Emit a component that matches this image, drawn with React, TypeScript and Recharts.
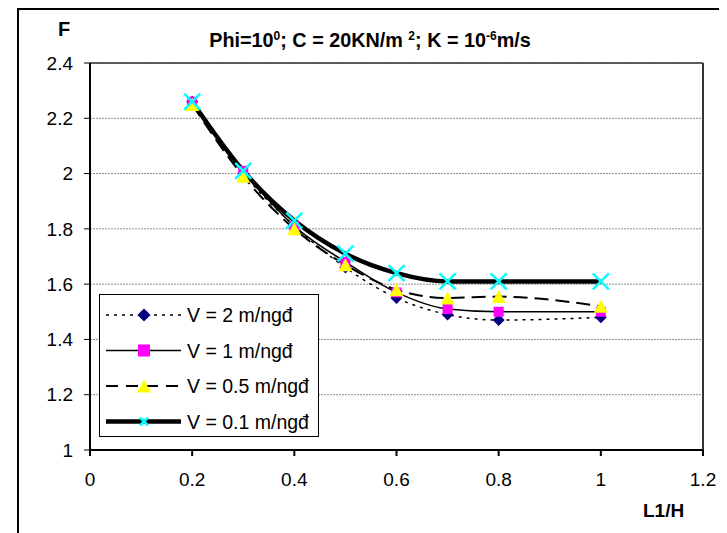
import React from "react";
import {
  CartesianGrid,
  Legend,
  Line,
  LineChart,
  ReferenceLine,
  XAxis,
  YAxis,
} from "recharts";

// L1/H values (no point at 0.9)
const ratios = [0.2, 0.3, 0.4, 0.5, 0.6, 0.7, 0.8, 1.0];

// F for each filtration speed
const fV2 = [2.26, 2.0, 1.81, 1.66, 1.55, 1.49, 1.47, 1.48];
const fV1 = [2.26, 2.01, 1.81, 1.68, 1.57, 1.51, 1.5, 1.5];
const fV05 = [2.25, 1.99, 1.8, 1.67, 1.58, 1.55, 1.555, 1.52];
const fV01 = [2.26, 2.01, 1.83, 1.71, 1.64, 1.61, 1.61, 1.61];

const seriesNames = ["V = 2 m/ngđ", "V = 1 m/ngđ", "V = 0.5 m/ngđ", "V = 0.1 m/ngđ"];

const xTicks = [0, 0.2, 0.4, 0.6, 0.8, 1, 1.2];
const yTicks = [1, 1.2, 1.4, 1.6, 1.8, 2, 2.2, 2.4];

const data = ratios.map((r, i) => ({
  x: r,
  v2: fV2[i],
  v1: fV1[i],
  v05: fV05[i],
  v01: fV01[i],
}));

type MarkerKind = "diamond" | "square" | "triangle" | "cross";

function Marker({ kind, cx, cy, s = 1 }: { kind: MarkerKind; cx: number; cy: number; s?: number }) {
  if (kind === "diamond") {
    const r = 6 * s;
    return (
      <polygon
        points={`${cx},${cy - r} ${cx + r},${cy} ${cx},${cy + r} ${cx - r},${cy}`}
        fill="#000080"
      />
    );
  }
  if (kind === "square") {
    const h = 5 * s;
    return <rect x={cx - h} y={cy - h} width={h * 2} height={h * 2} fill="#ff00ff" />;
  }
  if (kind === "triangle") {
    const w = 7 * s;
    const h = 6.5 * s;
    return (
      <polygon
        points={`${cx},${cy - h} ${cx + w},${cy + h} ${cx - w},${cy + h}`}
        fill="#ffff00"
      />
    );
  }
  const r = 8 * s;
  return (
    <g stroke="#00ffff" strokeWidth={2.5}>
      <line x1={cx - r} y1={cy - r} x2={cx + r} y2={cy + r} />
      <line x1={cx - r} y1={cy + r} x2={cx + r} y2={cy - r} />
    </g>
  );
}

const styles = [
  { key: "v2", marker: "diamond" as MarkerKind, width: 1.5, dash: "3 5", legendDash: "3 5" },
  { key: "v1", marker: "square" as MarkerKind, width: 1.5, dash: undefined, legendDash: undefined },
  { key: "v05", marker: "triangle" as MarkerKind, width: 2, dash: "14 7", legendDash: "12 8" },
  { key: "v01", marker: "cross" as MarkerKind, width: 4.5, dash: undefined, legendDash: undefined },
];

const legendScale = [1.1, 1.2, 1.0, 0.5];

function LegendBox() {
  return (
    <div
      style={{
        width: 220,
        height: 143,
        border: "1.5px solid #000",
        background: "#fff",
        boxSizing: "border-box",
      }}
    >
      <svg width={217} height={140} style={{ display: "block" }}>
        {styles.map((st, i) => {
          const y = 20 + i * 35.5;
          return (
            <g key={st.key}>
              <line
                x1={6}
                x2={81}
                y1={y}
                y2={y}
                stroke="#000"
                strokeWidth={st.width}
                strokeDasharray={st.legendDash}
              />
              <Marker kind={st.marker} cx={44} cy={y} s={legendScale[i]} />
              <text x={87} y={y + 7} fontSize={19.5} fill="#000">
                {seriesNames[i]}
              </text>
            </g>
          );
        })}
      </svg>
    </div>
  );
}

export default function App() {
  return (
    <div
      style={{
        position: "relative",
        width: 719,
        height: 525,
        fontFamily: '"Liberation Sans", Arial, sans-serif',
      }}
    >
      <div
        style={{
          position: "absolute",
          left: 9,
          top: 0,
          width: 700,
          height: 525,
          borderLeft: "2px solid #000",
          borderTop: "2px solid #000",
          borderRight: "2px solid #000",
        }}
      />
      <LineChart
        width={719}
        height={525}
        data={data}
        margin={{ top: 55, right: 24, bottom: 43, left: 22 }}
      >
        <CartesianGrid vertical={false} stroke="#8c8c8c" strokeDasharray="2 1" />
        <XAxis
          dataKey="x"
          type="number"
          domain={[0, 1.2]}
          ticks={xTicks}
          height={40}
          tickSize={6}
          tickMargin={17}
          axisLine={{ stroke: "#000", strokeWidth: 2 }}
          tickLine={{ stroke: "#000", strokeWidth: 2 }}
          tick={{ fontSize: 19, fill: "#000" }}
        />
        <YAxis
          type="number"
          domain={[1, 2.4]}
          ticks={yTicks}
          width={60}
          tickSize={6}
          tickMargin={11}
          allowDataOverflow
          axisLine={{ stroke: "#000", strokeWidth: 2 }}
          tickLine={{ stroke: "#000", strokeWidth: 1 }}
          tick={{ fontSize: 19, fill: "#000" }}
        />
        <ReferenceLine y={2.4} stroke="#333" strokeWidth={1.5} />
        <ReferenceLine x={1.2} stroke="#333" strokeWidth={2} />
        {styles.map((st, i) => (
          <Line
            key={st.key}
            type="monotone"
            dataKey={st.key}
            name={seriesNames[i]}
            stroke="#000"
            strokeWidth={st.width}
            strokeDasharray={st.dash}
            isAnimationActive={false}
            dot={(p: any) => (
              <Marker key={`${st.key}-${p.index}`} kind={st.marker} cx={p.cx} cy={p.cy} />
            )}
            activeDot={false}
          />
        ))}
        <Legend
          layout="vertical"
          align="center"
          verticalAlign="middle"
          content={() => <LegendBox />}
          wrapperStyle={{ left: 91, top: 286, width: 220, height: 143 }}
        />
        <text x={50} y={28} fontSize={20} fontWeight="bold" fill="#000">
          F
        </text>
        <text x={362} y={39} fontSize={19.8} fontWeight="bold" fill="#000" textAnchor="middle">
          Phi=10
          <tspan dy={-7} fontSize={12}>0</tspan>
          <tspan dy={7}>; C = 20KN/m </tspan>
          <tspan dy={-7} fontSize={12}>2</tspan>
          <tspan dy={7}>; K = 10</tspan>
          <tspan dy={-7} fontSize={12}>-6</tspan>
          <tspan dy={7}>m/s</tspan>
        </text>
        <text x={635} y={509} fontSize={19} fontWeight="bold" fill="#000">
          L1/H
        </text>
      </LineChart>
    </div>
  );
}
